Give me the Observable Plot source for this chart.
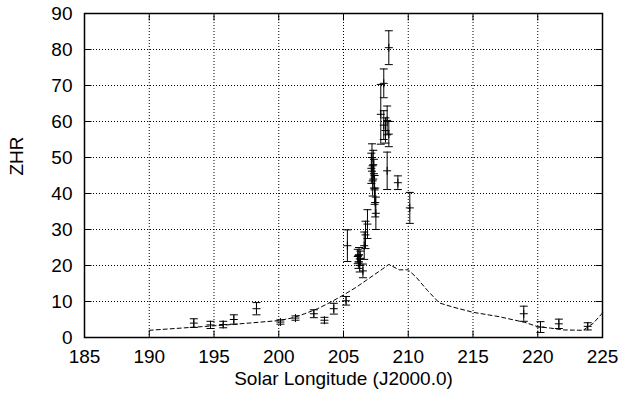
<!DOCTYPE html>
<html>
<head>
<meta charset="utf-8">
<script src="https://cdn.jsdelivr.net/npm/d3@7"></script>
<script src="https://cdn.jsdelivr.net/npm/@observablehq/plot@0.6"></script>
<style>
  html, body { margin: 0; padding: 0; background: #fff; }
</style>
</head>
<body>
<div id="chart"></div>
<script>
// Observed ZHR: solar longitude (deg), rate, and error half-width
const lon = [
  193.44, 194.73, 195.71, 196.53, 198.28, 200.13, 201.29, 202.71, 203.53, 204.25,
  205.2, 205.3,
  206.1, 206.15, 206.2, 206.25, 206.3, 206.5, 206.6, 206.7, 206.85,
  207.2, 207.3, 207.15, 207.35, 207.25, 207.4, 207.45, 207.5,
  207.88, 208.11, 208.5, 208.11, 208.24, 208.37, 208.5, 208.37,
  209.2, 210.12,
  218.92, 220.21, 221.63, 223.86
];
const zhr = [
  4.0, 3.5, 3.6, 5.0, 8.0, 4.3, 5.4, 6.6, 4.8, 8.0,
  10.2, 25.5,
  22.5, 21.0, 23.0, 20.0, 22.0, 18.5, 25.5, 28.5, 31.5,
  50.0, 48.0, 47.0, 45.5, 43.5, 41.0, 37.5, 34.5,
  62.0, 70.6, 80.5, 59.0, 57.5, 60.3, 56.5, 46.3,
  43.0, 36.0,
  6.6, 2.9, 3.8, 3.1
];
const err = [
  1.2, 1.0, 0.9, 1.3, 1.7, 0.6, 0.6, 1.1, 0.8, 1.5,
  1.2, 4.4,
  2.0, 1.8, 2.0, 1.8, 2.0, 1.9, 3.8, 3.8, 4.0,
  3.8, 4.0, 4.2, 4.0, 4.2, 4.0, 4.0, 4.5,
  8.3, 4.0, 4.7, 4.0, 3.5, 4.0, 3.5, 5.2,
  1.9, 4.3,
  2.1, 1.5, 1.3, 1.0
];

// Model activity profile (dashed curve)
const modelLon = [
  190, 192, 194, 196, 198, 200, 201, 202, 203, 204, 205, 206, 207, 208, 208.5,
  209.3, 210.0, 210.6, 211.5, 212.4, 213.5, 215, 217, 219, 220, 221, 222, 223.5, 224.3, 225
];
const modelZhr = [
  2.0, 2.5, 3.0, 3.5, 4.1, 4.7, 5.4, 6.6, 8.0, 9.8, 11.8, 14.0, 16.5, 19.0, 20.3,
  18.8, 18.8, 16.8, 13.0, 9.6, 8.4, 7.0, 5.8, 4.2, 3.0, 2.6, 2.1, 2.0, 4.0, 6.8
];

const xTicks = [185, 190, 195, 200, 205, 210, 215, 220, 225];
const yTicks = [0, 10, 20, 30, 40, 50, 60, 70, 80, 90];

const obs = lon.map((l, i) => ({lon: l, zhr: zhr[i], err: err[i]}));
const model = modelLon.map((l, i) => ({lon: l, zhr: modelZhr[i]}));

// Path-only symbols for error-bar caps, centre crosses and inward ticks
const cap = {draw(ctx) { ctx.moveTo(-4, 0); ctx.lineTo(4, 0); }};
const cross = {draw(ctx) { ctx.moveTo(-4, 0); ctx.lineTo(4, 0); ctx.moveTo(0, -4); ctx.lineTo(0, 4); }};
const tickUp = {draw(ctx) { ctx.moveTo(0, 0); ctx.lineTo(0, -7); }};
const tickDown = {draw(ctx) { ctx.moveTo(0, 0); ctx.lineTo(0, 7); }};
const tickRight = {draw(ctx) { ctx.moveTo(0, 0); ctx.lineTo(7, 0); }};
const tickLeft = {draw(ctx) { ctx.moveTo(0, 0); ctx.lineTo(-7, 0); }};

const line = {fill: "none", stroke: "black", strokeWidth: 1};
const dotted = {stroke: "black", strokeWidth: 1, strokeDasharray: "1,2"};

const chart = Plot.plot({
  width: 620,
  height: 401,
  marginLeft: 84,
  marginRight: 18,
  marginTop: 13,
  marginBottom: 64,
  style: {fontFamily: "'Liberation Sans', Arial, sans-serif", fontSize: "19px", background: "#fff", color: "black"},
  x: {domain: [185, 225], axis: null},
  y: {domain: [0, 90], axis: null},
  marks: [
    // dotted grid
    Plot.ruleX(xTicks.slice(1, -1), {x: d => d, ...dotted}),
    Plot.ruleY(yTicks.slice(1, -1), {y: d => d, ...dotted}),
    // inward ticks on all four sides
    Plot.dot(xTicks, {x: d => d, y: 0, symbol: tickUp, ...line}),
    Plot.dot(xTicks, {x: d => d, y: 90, symbol: tickDown, ...line}),
    Plot.dot(yTicks, {x: 185, y: d => d, symbol: tickRight, ...line}),
    Plot.dot(yTicks, {x: 225, y: d => d, symbol: tickLeft, ...line}),
    // model curve
    Plot.line(model, {x: "lon", y: "zhr", stroke: "black", strokeWidth: 1, strokeDasharray: "4,3"}),
    // observations with error bars
    Plot.ruleX(obs, {x: "lon", y1: d => d.zhr - d.err, y2: d => d.zhr + d.err, stroke: "black", strokeWidth: 1}),
    Plot.dot(obs, {x: "lon", y: d => d.zhr + d.err, symbol: cap, ...line}),
    Plot.dot(obs, {x: "lon", y: d => d.zhr - d.err, symbol: cap, ...line}),
    Plot.dot(obs, {x: "lon", y: "zhr", symbol: cross, ...line}),
    Plot.frame({stroke: "black", strokeWidth: 1.5}),
    // tick labels
    Plot.text(xTicks, {x: d => d, y: 0, dy: 19, text: d => String(d), fill: "black"}),
    Plot.text(yTicks, {x: 185, y: d => d, dx: -12, textAnchor: "end", text: d => String(d), fill: "black"}),
    // axis titles
    Plot.text(["Solar Longitude (J2000.0)"], {frameAnchor: "bottom", dy: 47, text: d => d, fill: "black"}),
    Plot.text(["ZHR"], {frameAnchor: "left", dx: -68, rotate: -90, text: d => d, fill: "black"})
  ]
});

document.getElementById("chart").append(chart);
</script>
</body>
</html>
